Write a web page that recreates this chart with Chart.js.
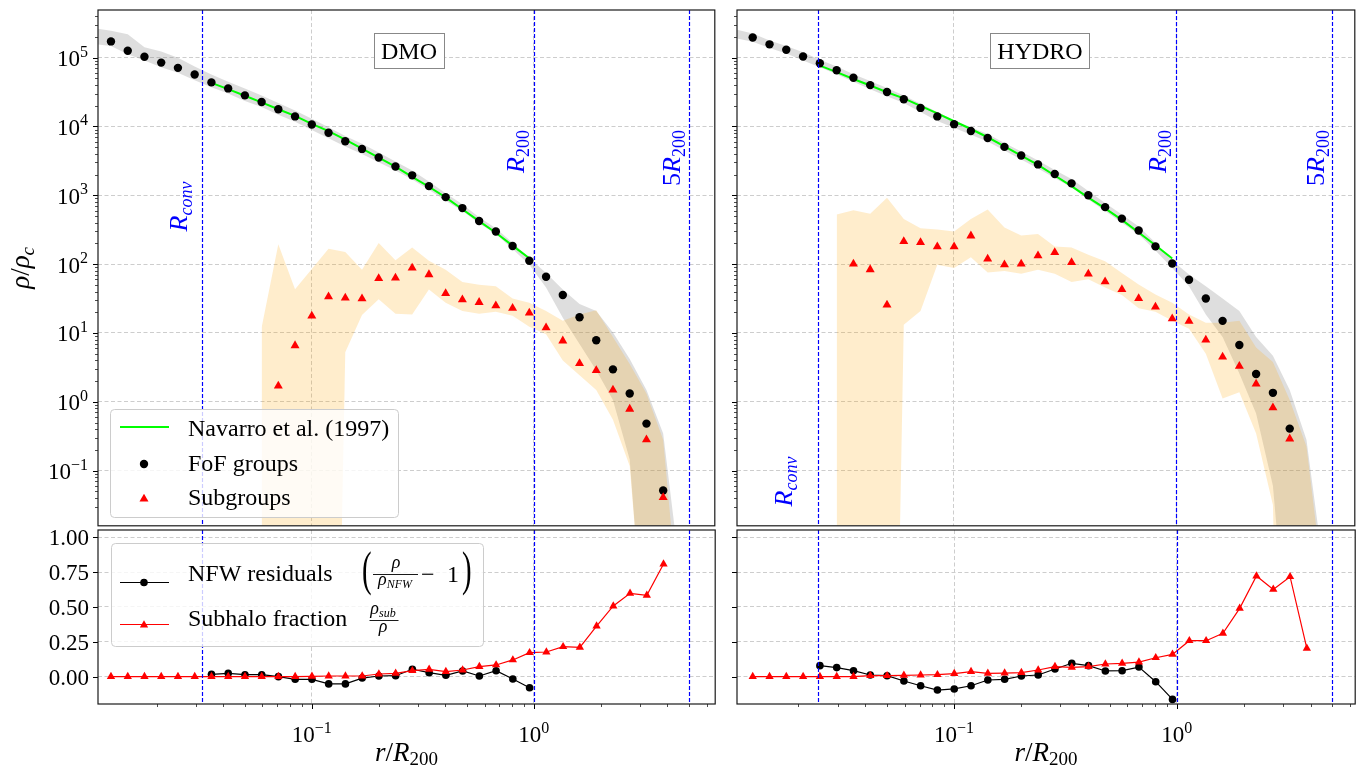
<!DOCTYPE html>
<html>
<head>
<meta charset="utf-8">
<title>DMO / HYDRO density profiles</title>
<script src="https://cdn.jsdelivr.net/npm/chart.js@4.4.0/dist/chart.umd.min.js"></script>
<style>
  html, body { margin: 0; padding: 0; background: #fff; }
  #wrap { position: relative; width: 1360px; height: 767px; overflow: hidden; background: #fff; }
  canvas { position: absolute; }
</style>
</head>
<body>
<div id="wrap">
  <canvas id="dmoTop" width="720" height="531" style="left:0px;top:0px"></canvas>
  <canvas id="hydroTop" width="640" height="531" style="left:720px;top:0px"></canvas>
  <canvas id="dmoBot" width="720" height="247" style="left:0px;top:520px"></canvas>
  <canvas id="hydroBot" width="640" height="247" style="left:720px;top:520px"></canvas>
</div>
<script>
const _ = null;

// radial bins (r / R200)
const rBin = [0.01247, 0.01484, 0.01765, 0.0210, 0.02498, 0.02972, 0.03536, 0.04206, 0.05004, 0.05953,
  0.07079, 0.08421, 0.1002, 0.1192, 0.1418, 0.1687, 0.2006, 0.2387, 0.2839, 0.3378,
  0.4018, 0.4780, 0.5686, 0.6764, 0.8047, 0.9572, 1.139, 1.355, 1.612, 1.917,
  2.280, 2.713, 3.228, 3.839];
// scatter bands run one bin further on each side
const rBand = [0.01048, ...rBin, 4.567];

const xDmo = [0.0109, 6.56];
const xHydro = [0.0106, 6.33];
const rhoLim = [0.0158, 4.92e5];
const fracLim = [-0.196, 1.052];
const rConvDmo = 0.0321;
const rConvHydro = 0.0244;

// ---- DMO ----
const dmoFof = [1.72e5, 1.26e5, 1.03e5, 8.47e4, 7.10e4, 5.69e4, 4.37e4, 3.57e4, 2.83e4, 2.27e4,
  1.78e4, 1.40e4, 1.07e4, 8110, 6100, 4720, 3540, 2620, 1950, 1360,
  940, 652, 424, 298, 183, 112, 65.5, 35.6, 16.9, 7.82,
  2.96, 1.32, 0.482, 0.0516];
const dmoSub = [_, _, _, _, _, _, _, _, _, _,
  1.70, 6.56, 17.7, 33.6, 32.3, 31.5, 61.8, 63.2, 88.1, 70.6,
  37.6, 30.5, 27.9, 25.0, 22.9, 19.6, 11.9, 7.69, 3.61, 2.86,
  1.49, 0.785, 0.281, 0.0409];
const dmoNfw = [_, _, _, _, _, _, 4.30e4, 3.49e4, 2.79e4, 2.24e4,
  1.78e4, 1.427e4, 1.091e4, 8555, 6435, 4768, 3522, 2602, 1852, 1331,
  931, 626, 422, 286, 186, 121.6, _, _, _, _,
  _, _, _, _];
const dmoFofHi = [2.69e5, 2.45e5, 2.19e5, 1.41e5, 1.23e5, 1.0e5, 7.41e4, 5.69e4, 4.47e4, 3.55e4,
  2.82e4, 2.19e4, 1.70e4, 1.29e4, 9770, 7240, 5620, 4170, 3090, 2290,
  1585, 1070, 741, 479, 331, 204, 123, 74.1, 42.7, 26.3,
  20.9, 10.2, 4.17, 1.48, 0.347, 0.00347];
const dmoFofLo = [1.58e5, 1.48e5, 1.12e5, 9.12e4, 7.24e4, 6.03e4, 4.68e4, 3.72e4, 3.02e4, 2.34e4,
  1.91e4, 1.48e4, 1.17e4, 8910, 6760, 5130, 3980, 3020, 2290, 1700,
  1200, 832, 589, 389, 275, 166, 97.7, 45.7, 16.6, 6.92,
  2.88, 1.06, 0.145, 1e-4, 1e-12, 1e-12];
const dmoSubHi = [_, _, _, _, _, _, _, _, _, _,
  12.0, 195, 43.0, 85.1, 167, 150, 83.2, 202, 114, 175,
  112, 83.2, 55.0, 50.1, 47.9, 31.6, 27.5, 20.9, 15.1, 18.6,
  21.4, 8.71, 3.55, 1.32, 0.282, 6.3e-4];
const dmoSubLo = [_, _, _, _, _, _, _, _, _, _,
  1e-12, 1e-12, 1e-12, 1e-12, 1e-12, 5.25, 18.2, 30.9, 19.1, 18.6,
  42.7, 27.5, 20.9, 19.1, 20.4, 17.8, 12.3, 9.55, 3.98, 2.43,
  1.48, 0.55, 0.117, 1.26e-4, 1e-12, 1e-12];
const dmoRes = [_, _, _, _, _, _, 0.017, 0.024, 0.014, 0.014,
  0.0, -0.019, -0.019, -0.052, -0.052, -0.010, 0.005, 0.007, 0.053, 0.029,
  0.010, 0.041, 0.005, 0.043, -0.017, -0.079, _, _, _, _,
  _, _, _, _];
const dmoFrac = [0, 0, 0, 0, 0, 0, 0, 0, 0, 0,
  0.0, 0.0, 0.002, 0.005, 0.005, 0.005, 0.019, 0.024, 0.043, 0.053,
  0.036, 0.048, 0.072, 0.084, 0.120, 0.172, 0.177, 0.215, 0.210, 0.363,
  0.507, 0.598, 0.583, 0.808];

// ---- HYDRO ----
const hydroFof = [1.96e5, 1.56e5, 1.30e5, 1.04e5, 8.28e4, 6.56e4, 5.09e4, 3.99e4, 3.16e4, 2.48e4,
  1.86e4, 1.40e4, 1.08e4, 8590, 6810, 5050, 3780, 2810, 2040, 1490,
  1000, 673, 458, 308, 181, 102, 59.2, 31.6, 15.0, 6.70,
  2.53, 1.35, 0.408, _];
const hydroSub = [_, _, _, _, _, _, 101, 83.4, 25.6, 214,
  207, 179, 179, 258, 119, 98.4, 101, 133, 148, 106,
  72.3, 55.5, 43.0, 31.8, 23.9, 16.1, 14.8, 7.91, 4.50, 3.30,
  1.82, 0.82, 0.29, _];
const hydroNfw = [_, _, _, _, 76700, 61700, 48900, 39400, 31400, 25600,
  19900, 15450, 11900, 9180, 6970, 5140, 3770, 2770, 1940, 1360,
  927, 646, 440, 288, 188, 121, _, _, _, _,
  _, _, _, _];
const hydroFofHi = [2.57e5, 2.24e5, 1.78e5, 1.48e5, 1.20e5, 9.33e4, 7.41e4, 5.75e4, 4.57e4, 3.63e4,
  2.82e4, 2.14e4, 1.62e4, 1.23e4, 9770, 7760, 5750, 4320, 3200, 2340,
  1720, 1150, 776, 525, 351, 204, 112, 70.8, 47.9, 31.6,
  20.9, 8.71, 4.68, 1.48, 0.282, 0.00407];
const hydroFofLo = [1.91e5, 1.70e5, 1.38e5, 1.15e5, 9.12e4, 7.24e4, 5.75e4, 4.47e4, 3.47e4, 2.75e4,
  2.19e4, 1.62e4, 1.20e4, 9550, 7590, 6030, 4470, 3310, 2450, 1780,
  1300, 871, 589, 398, 269, 158, 88.1, 47.9, 18.6, 8.71,
  2.57, 0.676, 0.0603, 1e-4, 1e-12, 1e-12];
const hydroSubHi = [_, _, _, _, _, _, 528, 604, 541, 920,
  453, 333, 318, 298, 453, 624, 340, 261, 275, 181,
  175, 137, 110, 74.6, 50.7, 36.3, 27.5, 18.6, 14.1, 14.1,
  15.1, 6.17, 3.80, 1.06, 0.224, 0.00219];
const hydroSubLo = [_, _, _, _, _, _, 1e-12, 1e-12, 1e-12, 1e-12,
  13.2, 20.9, 97.7, 88.1, 126, 75.9, 79.4, 72.4, 83.2, 72.4,
  55.0, 60.3, 45.7, 35.5, 22.9, 20.4, 15.1, 11.5, 5.01, 1.12,
  1.38, 0.347, 0.0316, 1e-12, 1e-12, 1e-12];
const hydroRes = [_, _, _, _, 0.079, 0.065, 0.043, 0.012, 0.007, -0.031,
  -0.065, -0.096, -0.088, -0.065, -0.024, -0.019, 0.005, 0.012, 0.055, 0.096,
  0.079, 0.041, 0.043, 0.069, -0.036, -0.163, _, _, _, _,
  _, _, _, _];
const hydroFrac = [0, 0, 0, 0, 0, 0, 0.0, 0.007, 0.007, 0.010,
  0.012, 0.014, 0.022, 0.036, 0.024, 0.026, 0.029, 0.048, 0.072, 0.067,
  0.072, 0.091, 0.096, 0.105, 0.136, 0.160, 0.258, 0.258, 0.311, 0.490,
  0.722, 0.626, 0.717, 0.203];

// ---- styling ----
const SERIF = '"Liberation Serif", "DejaVu Serif", serif';
const F = (size, italic) => (italic ? 'italic ' : '') + size + 'px ' + SERIF;
const BLUE = '#0000ff';
const GRID = '#cdcdcd';
const NONE = 'rgba(0,0,0,0)';
const GRAY_BAND = 'rgba(128,128,128,0.26)';
const ORANGE_BAND = 'rgba(255,165,0,0.2)';
const TRI_TOP = 5.2, TRI_BOT = 4.8;
Chart.defaults.font.family = SERIF;

function pts(xs, ys) {
  return xs.map((x, i) => ({ x, y: ys[i] })).filter(p => p.y !== null);
}
function isDecade(v) {
  const l = Math.log10(v);
  return Math.abs(l - Math.round(l)) < 1e-9;
}
function isNice(v) {
  const e = Math.floor(Math.log10(v) + 1e-9);
  const m = v / Math.pow(10, e);
  return Math.abs(m - Math.round(m)) < 1e-6;
}

// text made of runs: [text, font, dy]
function rich(ctx, parts, x, y, align) {
  let w = 0;
  for (const p of parts) { ctx.font = p[1]; w += ctx.measureText(p[0]).width; }
  let cx = align === 'right' ? x - w : align === 'center' ? x - w / 2 : x;
  ctx.textAlign = 'left';
  ctx.textBaseline = 'alphabetic';
  for (const p of parts) {
    ctx.font = p[1];
    ctx.fillText(p[0], cx, y + (p[2] || 0));
    cx += ctx.measureText(p[0]).width;
  }
  return w;
}
const pow10 = e => [['10', F(23)], [(e < 0 ? '\u2212' : '') + Math.abs(e), F(16), -9.5]];
const tagConv = [['R', F(26, true)], ['conv', F(18, true), 5]];
const tagR200 = [['R', F(26, true)], ['200', F(18), 5]];
const tag5R200 = [['5', F(26)], ['R', F(26, true)], ['200', F(18), 5]];
const yTitle = [['\u03c1', F(27, true)], ['/', F(27)], ['\u03c1', F(27, true)], ['c', F(19, true), 5]];
const xTitle = [['r', F(27, true)], ['/', F(27)], ['R', F(27, true)], ['200', F(19), 4]];

function seg(ctx, x1, y1, x2, y2) {
  ctx.beginPath(); ctx.moveTo(x1, y1); ctx.lineTo(x2, y2); ctx.stroke();
}
function marker(ctx, kind, x, y, r, color) {
  ctx.fillStyle = color;
  ctx.beginPath();
  if (kind === 'circle') {
    ctx.arc(x, y, r, 0, Math.PI * 2);
  } else {
    for (let k = 0; k < 3; k++) {
      const a = k * 2 * Math.PI / 3;
      const px = x + Math.sin(a) * r, py = y - Math.cos(a) * r;
      if (k) ctx.lineTo(px, py); else ctx.moveTo(px, py);
    }
    ctx.closePath();
  }
  ctx.fill();
}
function legendFrame(ctx, x, y, w, h) {
  ctx.save();
  ctx.beginPath();
  ctx.roundRect(x, y, w, h, 4);
  ctx.fillStyle = 'rgba(255,255,255,0.8)';
  ctx.fill();
  ctx.strokeStyle = '#cccccc';
  ctx.lineWidth = 1;
  ctx.stroke();
  ctx.restore();
}
function bigParen(ctx, ch, x, base) {
  ctx.save();
  ctx.translate(x, base);
  ctx.scale(0.6, 1);
  ctx.font = F(48);
  ctx.textAlign = 'left';
  ctx.fillText(ch, 0, 0);
  ctx.restore();
}

function legendTop(ctx) {
  legendFrame(ctx, 110.5, 409.5, 288, 108);
  ctx.strokeStyle = '#00ff00'; ctx.lineWidth = 2;
  seg(ctx, 120, 427, 169, 427);
  marker(ctx, 'circle', 144, 464, 4.2, '#000');
  marker(ctx, 'triangle', 144, 499, TRI_TOP, '#ff0000');
  ctx.fillStyle = '#000';
  rich(ctx, [['Navarro et al. (1997)', F(24)]], 188, 435.5, 'left');
  rich(ctx, [['FoF groups', F(24)]], 188, 470.5, 'left');
  rich(ctx, [['Subgroups', F(24)]], 188, 505, 'left');
}
function legendBottom(ctx) {
  legendFrame(ctx, 111.5, 23.5, 372, 103);
  ctx.strokeStyle = '#000'; ctx.lineWidth = 1.2;
  seg(ctx, 120, 62.5, 169, 62.5);
  marker(ctx, 'circle', 144, 62.5, 3.8, '#000');
  ctx.strokeStyle = '#ff0000';
  seg(ctx, 120, 104.5, 169, 104.5);
  marker(ctx, 'triangle', 144, 105, TRI_BOT, '#ff0000');
  ctx.fillStyle = '#000'; ctx.strokeStyle = '#000';
  rich(ctx, [['NFW residuals', F(24)]], 188, 61, 'left');
  bigParen(ctx, '(', 362, 65);
  rich(ctx, [['\u03c1', F(18, true)]], 396, 48, 'center');
  ctx.lineWidth = 0.9;
  seg(ctx, 373, 54.5, 418, 54.5);
  rich(ctx, [['\u03c1', F(18, true)], ['NFW', F(12, true), 3]], 395, 65, 'center');
  rich(ctx, [['\u2212', F(24)]], 421, 62, 'left');
  rich(ctx, [['1', F(24)]], 447, 62, 'left');
  bigParen(ctx, ')', 462, 65);
  rich(ctx, [['Subhalo fraction', F(24)]], 188, 106, 'left');
  rich(ctx, [['\u03c1', F(18, true)], ['sub', F(12, true), 3]], 383, 94, 'center');
  seg(ctx, 369.5, 100.5, 398.5, 100.5);
  rich(ctx, [['\u03c1', F(18, true)]], 383, 112, 'center');
}

function drawAxes(chart, cfg) {
  const ctx = chart.ctx, a = chart.chartArea, xs = chart.scales.x, ys = chart.scales.y;
  const isLog = ys.type === 'logarithmic';
  ctx.save();
  ctx.strokeStyle = '#000'; ctx.fillStyle = '#000';
  ys.ticks.forEach(t => {
    const v = t.value;
    if (isLog && !isNice(v)) return;
    const major = !isLog || isDecade(v);
    const py = ys.getPixelForValue(v);
    if (py < a.top - 1 || py > a.bottom + 1) return;
    const y = Math.round(py) + 0.5;
    ctx.lineWidth = major ? 1 : 0.7;
    seg(ctx, a.left - (major ? 5 : 3), y, a.left, y);
    if (!cfg.yLabels) return;
    if (isLog && major) rich(ctx, pow10(Math.round(Math.log10(v))), a.left - 10, py + 8.5, 'right');
    if (!isLog) rich(ctx, [[v.toFixed(2), F(23)]], a.left - 9, py + 8, 'right');
  });
  if (cfg.xAxis) {
    xs.ticks.forEach(t => {
      const v = t.value;
      if (!isNice(v)) return;
      const px = xs.getPixelForValue(v);
      if (px < a.left - 1 || px > a.right + 1) return;
      const major = isDecade(v);
      const x = Math.round(px) + 0.5;
      ctx.lineWidth = major ? 1 : 0.7;
      seg(ctx, x, a.bottom, x, a.bottom + (major ? 5 : 3));
      if (major) rich(ctx, pow10(Math.round(Math.log10(v))), px, a.bottom + 38, 'center');
    });
    rich(ctx, xTitle, (a.left + a.right) / 2, a.bottom + 57, 'center');
  }
  if (cfg.yTitle) {
    ctx.save();
    ctx.translate(29, (a.top + a.bottom) / 2);
    ctx.rotate(-Math.PI / 2);
    rich(ctx, yTitle, 0, 0, 'center');
    ctx.restore();
  }
  ctx.lineWidth = 1.2;
  ctx.strokeStyle = '#1a1a1a';
  ctx.strokeRect(a.left, a.top, a.right - a.left, a.bottom - a.top);
  ctx.restore();
}

function decor(cfg) {
  return {
    id: 'decor',
    afterDatasetsDraw(chart) {
      const ctx = chart.ctx, a = chart.chartArea, xs = chart.scales.x;
      ctx.save();
      ctx.beginPath();
      ctx.rect(a.left, a.top, a.right - a.left, a.bottom - a.top);
      ctx.clip();
      ctx.strokeStyle = BLUE; ctx.lineWidth = 1.2; ctx.setLineDash([4, 2]);
      cfg.lines.forEach(v => {
        const px = Math.round(xs.getPixelForValue(v)) + 0.5;
        seg(ctx, px, a.top, px, a.bottom);
      });
      ctx.setLineDash([]);
      ctx.fillStyle = BLUE;
      (cfg.tags || []).forEach(t => {
        ctx.save();
        ctx.translate(xs.getPixelForValue(t.at) + t.dx, t.y);
        ctx.rotate(-Math.PI / 2);
        rich(ctx, t.parts, 0, 0, t.align);
        ctx.restore();
      });
      if (cfg.label) {
        ctx.font = F(24);
        const w = ctx.measureText(cfg.label.text).width;
        ctx.fillStyle = '#fff';
        ctx.fillRect(cfg.label.cx - w / 2 - 7, 33.5, w + 14, 35);
        ctx.strokeStyle = '#888'; ctx.lineWidth = 1;
        ctx.strokeRect(Math.round(cfg.label.cx - w / 2 - 7) + 0.5, 33.5, Math.round(w + 14), 35);
        ctx.fillStyle = '#000';
        rich(ctx, [[cfg.label.text, F(24)]], cfg.label.cx, 58.5, 'center');
      }
      if (cfg.legend) cfg.legend(ctx);
      ctx.restore();
    },
    afterDraw(chart) { drawAxes(chart, cfg); }
  };
}

// ---- scales ----
const gridColor = c => (c.tick && isDecade(c.tick.value)) ? GRID : NONE;
function xAxis(lim, h) {
  return {
    type: 'logarithmic', min: lim[0], max: lim[1],
    ticks: { display: false, autoSkip: false },
    grid: { color: gridColor, lineWidth: 1, drawTicks: false },
    border: { display: false, dash: [4, 2.5] },
    afterFit: s => { s.height = h; }
  };
}
function yRho(w) {
  return {
    type: 'logarithmic', min: rhoLim[0], max: rhoLim[1],
    ticks: { display: false, autoSkip: false },
    grid: { color: gridColor, lineWidth: 1, drawTicks: false },
    border: { display: false, dash: [4, 2.5] },
    afterFit: s => { s.width = w; }
  };
}
function yFrac(w) {
  return {
    type: 'linear', min: fracLim[0], max: fracLim[1],
    ticks: { display: false, stepSize: 0.25, includeBounds: false, autoSkip: false },
    grid: { color: GRID, lineWidth: 1, drawTicks: false },
    border: { display: false, dash: [4, 2.5] },
    afterFit: s => { s.width = w; }
  };
}

function bandSets(hi, lo, color, order) {
  return [
    { data: pts(rBand, hi), fill: '+1', backgroundColor: color, borderColor: NONE, borderWidth: 0, pointRadius: 0, order },
    { data: pts(rBand, lo), fill: false, borderColor: NONE, borderWidth: 0, pointRadius: 0, order }
  ];
}

function topChart(id, d, xLim, yw, cfg) {
  return new Chart(document.getElementById(id), {
    type: 'line',
    data: {
      datasets: [
        { data: pts(rBin, d.sub), showLine: false, pointStyle: 'triangle', pointRadius: TRI_TOP,
          pointBackgroundColor: '#ff0000', pointBorderWidth: 0, borderColor: '#ff0000', order: 0 },
        { data: pts(rBin, d.fof), showLine: false, pointStyle: 'circle', pointRadius: 4.2,
          pointBackgroundColor: '#000', pointBorderWidth: 0, borderColor: '#000', order: 1 },
        { data: pts(rBin, d.nfw), borderColor: '#00ff00', borderWidth: 2, pointRadius: 0, fill: false, order: 2 },
        ...bandSets(d.subHi, d.subLo, ORANGE_BAND, 3),
        ...bandSets(d.fofHi, d.fofLo, GRAY_BAND, 4)
      ]
    },
    options: {
      responsive: false, animation: false, events: [],
      layout: { padding: { left: 0, right: 3, top: 10, bottom: 1 } },
      plugins: { legend: { display: false }, tooltip: { enabled: false } },
      scales: { x: xAxis(xLim, 0), y: yRho(yw) }
    },
    plugins: [decor(cfg)]
  });
}

function bottomChart(id, d, xLim, yw, cfg) {
  return new Chart(document.getElementById(id), {
    type: 'line',
    data: {
      datasets: [
        { data: pts(rBin, d.frac), borderColor: '#ff0000', borderWidth: 1.2, pointStyle: 'triangle',
          pointRadius: TRI_BOT, pointBackgroundColor: '#ff0000', pointBorderWidth: 0, fill: false, order: 0 },
        { data: pts(rBin, d.res), borderColor: '#000', borderWidth: 1.2, pointStyle: 'circle',
          pointRadius: 3.8, pointBackgroundColor: '#000', pointBorderWidth: 0, fill: false, order: 1 }
      ]
    },
    options: {
      responsive: false, animation: false, events: [],
      layout: { padding: { left: 0, right: 3, top: 10, bottom: 0 } },
      plugins: { legend: { display: false }, tooltip: { enabled: false } },
      scales: { x: xAxis(xLim, 63), y: yFrac(yw) }
    },
    plugins: [decor(cfg)]
  });
}

topChart('dmoTop',
  { fof: dmoFof, sub: dmoSub, nfw: dmoNfw, fofHi: dmoFofHi, fofLo: dmoFofLo, subHi: dmoSubHi, subLo: dmoSubLo },
  xDmo, 98,
  {
    lines: [rConvDmo, 1, 5], yLabels: true, yTitle: true,
    tags: [
      { at: rConvDmo, dx: -15, y: 206.5, align: 'center', parts: tagConv },
      { at: 1, dx: -10, y: 130, align: 'right', parts: tagR200 },
      { at: 5, dx: -9, y: 130, align: 'right', parts: tag5R200 }
    ],
    label: { text: 'DMO', cx: 409 },
    legend: legendTop
  });

topChart('hydroTop',
  { fof: hydroFof, sub: hydroSub, nfw: hydroNfw, fofHi: hydroFofHi, fofLo: hydroFofLo, subHi: hydroSubHi, subLo: hydroSubLo },
  xHydro, 17,
  {
    lines: [rConvHydro, 1, 5], yLabels: false,
    tags: [
      { at: rConvHydro, dx: -26, y: 481.5, align: 'center', parts: tagConv },
      { at: 1, dx: -10, y: 130, align: 'right', parts: tagR200 },
      { at: 5, dx: -8, y: 130, align: 'right', parts: tag5R200 }
    ],
    label: { text: 'HYDRO', cx: 320 }
  });

bottomChart('dmoBot', { res: dmoRes, frac: dmoFrac }, xDmo, 98,
  { lines: [rConvDmo, 1, 5], yLabels: true, xAxis: true, legend: legendBottom });

bottomChart('hydroBot', { res: hydroRes, frac: hydroFrac }, xHydro, 17,
  { lines: [rConvHydro, 1, 5], yLabels: false, xAxis: true });
</script>
</body>
</html>
